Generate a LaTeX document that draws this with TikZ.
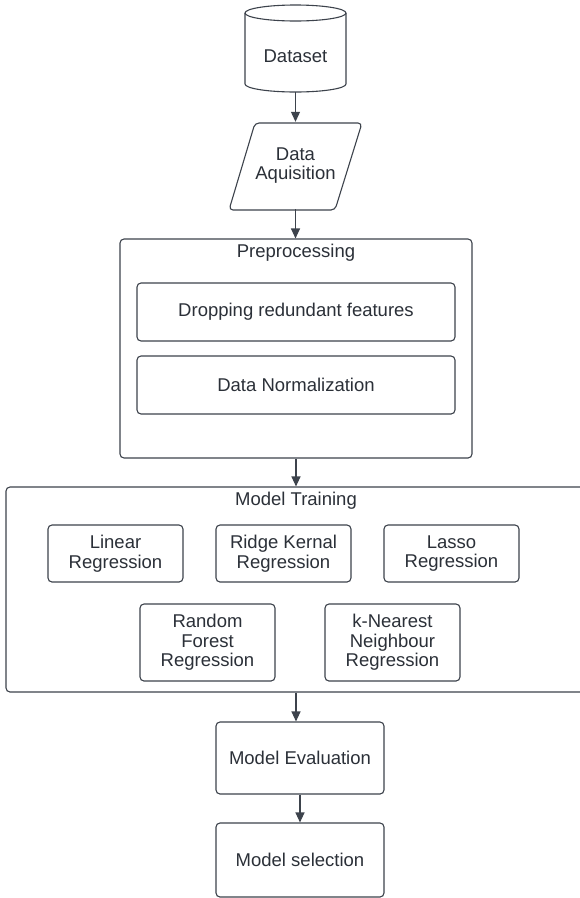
\documentclass[tikz,border=0pt]{standalone}
\usepackage{fontspec}
\setmainfont{Liberation Sans}
\usetikzlibrary{arrows.meta}
\definecolor{edge}{HTML}{3D434C}
\definecolor{ink}{HTML}{2B3038}
\tikzset{
  box/.style={draw=edge, line width=1.1pt, rounded corners=4pt, inner sep=0pt, align=center, text=ink},
  lbl/.style={inner sep=0pt, align=center, text=ink},
  arr/.style={draw=edge, line width=1.1pt, -{Triangle[length=10pt,width=9pt]}},
}
\begin{document}
\begin{tikzpicture}[x=1pt, y=-1pt, font=\fontsize{18.5}{19.6}\selectfont]
\useasboundingbox (0,0) rectangle (580,898);
\fill[white] (0,0) rectangle (580,898);

% dataset cylinder
\draw[edge, line width=1.1pt, fill=white] (245,13) -- (245,84)
  arc[start angle=180, end angle=360, x radius=50.5pt, y radius=8pt] -- (346,13);
\draw[edge, line width=1.1pt] (295.5,13) ellipse[x radius=50.5pt, y radius=8pt];
\node[lbl, minimum width=101pt, minimum height=72pt] (dataset) at (295.5,56) {Dataset};

% data acquisition parallelogram
\draw[edge, line width=1.1pt, rounded corners=4pt]
  (255,123) -- (362,123) -- (335,210) -- (229,210) -- cycle;
\node[lbl, minimum width=106pt, minimum height=87pt] (acq) at (295.5,165.5) {Data\\Aquisition};

% preprocessing group
\node[box, minimum width=352pt, minimum height=219pt] (pre) at (296,348.5) {};
\node[lbl] (pretitle) at (296,253) {Preprocessing};
\node[box, minimum width=318pt, minimum height=58pt] (drop) at (296,312) {Dropping redundant features};
\node[box, minimum width=318pt, minimum height=58pt] (norm) at (296,385) {Data Normalization};

% model training group
\node[box, minimum width=584pt, minimum height=205pt] (train) at (298,589.5) {};
\node[lbl] (traintitle) at (296,501) {Model Training};
\node[box, minimum width=135pt, minimum height=57pt] (lin) at (115.5,553.5) {Linear\\Regression};
\node[box, minimum width=135pt, minimum height=57pt] (ridge) at (283.5,553.5) {Ridge Kernal\\Regression};
\node[box, minimum width=135pt, minimum height=57pt] (lasso) at (451.5,553.5) {Lasso\\Regression};
\node[box, minimum width=135pt, minimum height=77pt] (rf) at (207.5,642.5) {Random\\Forest\\Regression};
\node[box, minimum width=135pt, minimum height=77pt] (knn) at (392.5,642.5) {k-Nearest\\Neighbour\\Regression};

% evaluation and selection
\node[box, minimum width=168pt, minimum height=72pt] (eval) at (300,758) {Model Evaluation};
\node[box, minimum width=168pt, minimum height=74pt] (sel) at (300,860) {Model selection};

% connectors
\draw[arr] (dataset.south) -- (acq.north);
\draw[arr] (acq.south) -- (acq.south |- pre.north);
\draw[arr] (pre.south) -- (pre.south |- train.north);
\draw[arr] (pre.south |- train.south) -- (pre.south |- eval.north);
\draw[arr] (eval.south) -- (sel.north);
\end{tikzpicture}
\end{document}
